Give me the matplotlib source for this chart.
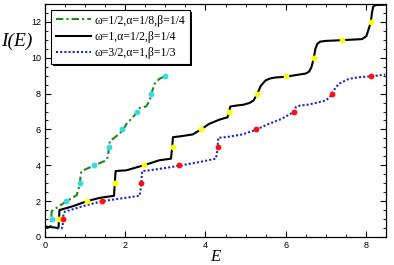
import matplotlib
matplotlib.use("Agg")
import matplotlib.pyplot as plt
import matplotlib.patheffects as pe

# omega=1/2, alpha=1/8, beta=1/4  (green dash-dot, cyan dots)
green_E = [0.0, 0.12, 0.14, 0.15, 0.17, 0.54, 0.79, 0.87, 0.89, 0.91, 1.24, 1.53, 1.57, 1.59, 1.62,
           1.70, 1.94, 2.03, 2.23, 2.29, 2.36, 2.52, 2.61, 2.65, 2.73, 2.85, 3.0]
green_I = [0.57, 0.55, 0.6, 1.0, 1.45, 2.0, 2.33, 2.98, 3.5, 3.68, 4.0, 4.28, 4.5, 4.98, 5.39,
           5.48, 5.94, 6.31, 6.78, 7.0, 7.2, 7.28, 7.61, 7.98, 8.54, 8.82, 8.98]
cyan_E = [0.17, 0.53, 0.87, 1.23, 1.59, 1.93, 2.29, 2.65, 3.0]
cyan_I = [1, 2, 3, 4, 5, 6, 7, 8, 9]

# omega=1, alpha=1/2, beta=1/4  (black solid, yellow dots)
black_E = [0.0, 0.2, 0.33, 0.34, 0.35, 0.36, 0.7, 1.05, 1.36, 1.72, 1.74, 1.76, 2.03, 2.46, 2.85,
           3.14, 3.17, 3.19, 3.35, 3.68, 3.89, 4.09, 4.34, 4.55, 4.59, 4.62, 4.76, 4.95, 5.1, 5.2,
           5.29, 5.38, 5.5, 5.62, 5.75, 6.0, 6.33, 6.5, 6.58, 6.64, 6.70, 6.74, 6.79, 6.86, 7.0, 7.4,
           7.9, 8.01, 8.06, 8.12, 8.15, 8.18, 8.24, 8.5]
black_I = [0.58, 0.54, 0.5, 0.6, 1.0, 1.5, 1.72, 2.0, 2.18, 2.3, 3.0, 3.68, 3.72, 4.0, 4.28,
           4.37, 5.0, 5.57, 5.61, 5.72, 6.0, 6.31, 6.54, 6.68, 7.0, 7.28, 7.33, 7.38, 7.48, 7.62,
           7.98, 8.44, 8.74, 8.85, 8.9, 8.94, 9.06, 9.12, 9.22, 9.46, 9.98, 10.5, 10.78, 10.9, 10.94, 10.98,
           11.04, 11.2, 11.55, 11.96, 12.5, 12.85, 12.94, 12.96]
yellow_E = [0.35, 1.05, 1.75, 2.46, 3.18, 3.89, 4.59, 5.29, 6.0, 6.70, 7.40, 8.12]
yellow_I = [1, 2, 3, 4, 5, 6, 7, 8, 9, 10, 11, 12]

# omega=3/2, alpha=1, beta=1/3  (blue dotted, red dots)
blue_E = [0.3, 0.42, 0.44, 0.45, 0.46, 0.5, 0.62, 1.0, 1.43, 1.9, 2.36, 2.38, 2.40, 2.42, 2.61,
          3.0, 3.35, 3.85, 4.26, 4.28, 4.30, 4.32, 4.51, 4.92, 5.25, 5.58, 5.91, 6.1, 6.2,
          6.25, 6.35, 6.58, 6.99, 7.1, 7.15, 7.22, 7.32, 7.57, 7.85, 8.12, 8.48]
blue_I = [0.48, 0.48, 0.6, 1.0, 1.3, 1.42, 1.5, 1.75, 2.0, 2.15, 2.3, 2.6, 3.0, 3.68, 3.72,
          3.85, 3.98, 4.18, 4.37, 4.6, 5.0, 5.54, 5.57, 5.72, 5.98, 6.31, 6.6, 6.85, 6.96,
          7.24, 7.33, 7.39, 7.61, 7.8, 7.98, 8.25, 8.54, 8.82, 8.92, 8.96, 9.06]
red_E = [0.46, 1.43, 2.39, 3.35, 4.30, 5.25, 6.2, 7.15, 8.12]
red_I = [1, 2, 3, 4, 5, 6, 7, 8, 9]

labels = [r"ω=1/2,α=1/8,β=1/4", r"ω=1,α=1/2,β=1/4", r"ω=3/2,α=1,β=1/3"]

plt.rcParams['font.family'] = ['Liberation Sans', 'DejaVu Sans']

fig = plt.figure(figsize=(3.94, 2.65), dpi=100)
ax = fig.add_axes([0.1142, 0.1057, 0.8655, 0.8793])

ax.plot(green_E, green_I, color='#1a8a1a', lw=1.5, ls=(0, (3.5, 1.5, 1, 1.5)), label=labels[0])
ax.plot(black_E, black_I, color='black', lw=1.5, ls='-', label=labels[1])
ax.plot(blue_E, blue_I, color='#2222cc', lw=1.5, ls=(0, (1, 1)), label=labels[2])

ax.plot(cyan_E, cyan_I, 'o', color='#33dddd', ms=4.2, mec='none', zorder=5)
ax.plot(yellow_E, yellow_I, 'o', color='#ffff00', ms=4.2, mec='none', zorder=5)
ax.plot(red_E, red_I, 'o', color='#ff1010', ms=4.2, mec='none', zorder=5)

ax.set_xlim(0, 8.5)
ax.set_ylim(0, 13)
ax.set_xticks([0, 2, 4, 6, 8])
ax.set_yticks([0, 2, 4, 6, 8, 10, 12])
ax.xaxis.set_minor_locator(matplotlib.ticker.MultipleLocator(0.5))
ax.yaxis.set_minor_locator(matplotlib.ticker.MultipleLocator(0.5))
ax.tick_params(which='both', direction='in', top=True, right=True, labelsize=6.5, pad=3)
ax.tick_params(which='major', length=4, width=0.8)
ax.tick_params(which='minor', length=2.5, width=0.6)
for s in ax.spines.values():
    s.set_linewidth(0.9)

fig.text(0.003, 0.825, "I(E)", family='Liberation Serif', style='italic', fontsize=14)
ax.set_xlabel("E", family='Liberation Serif', style='italic', fontsize=12, labelpad=-1)

leg = ax.legend(loc='upper left', bbox_to_anchor=(0.018, 0.975), prop={'family': 'Liberation Serif', 'size': 8.5},
                frameon=True, fancybox=False, edgecolor='black', framealpha=1, handlelength=3.0,
                handletextpad=0.3, labelspacing=0.36, borderpad=0.4, borderaxespad=0)
leg.get_frame().set_linewidth(0.8)
leg.get_frame().set_path_effects([pe.SimplePatchShadow(offset=(1.3, -1.3), shadow_rgbFace='black', alpha=1),
                                  pe.Normal()])

plt.savefig("out.png", dpi=100)
